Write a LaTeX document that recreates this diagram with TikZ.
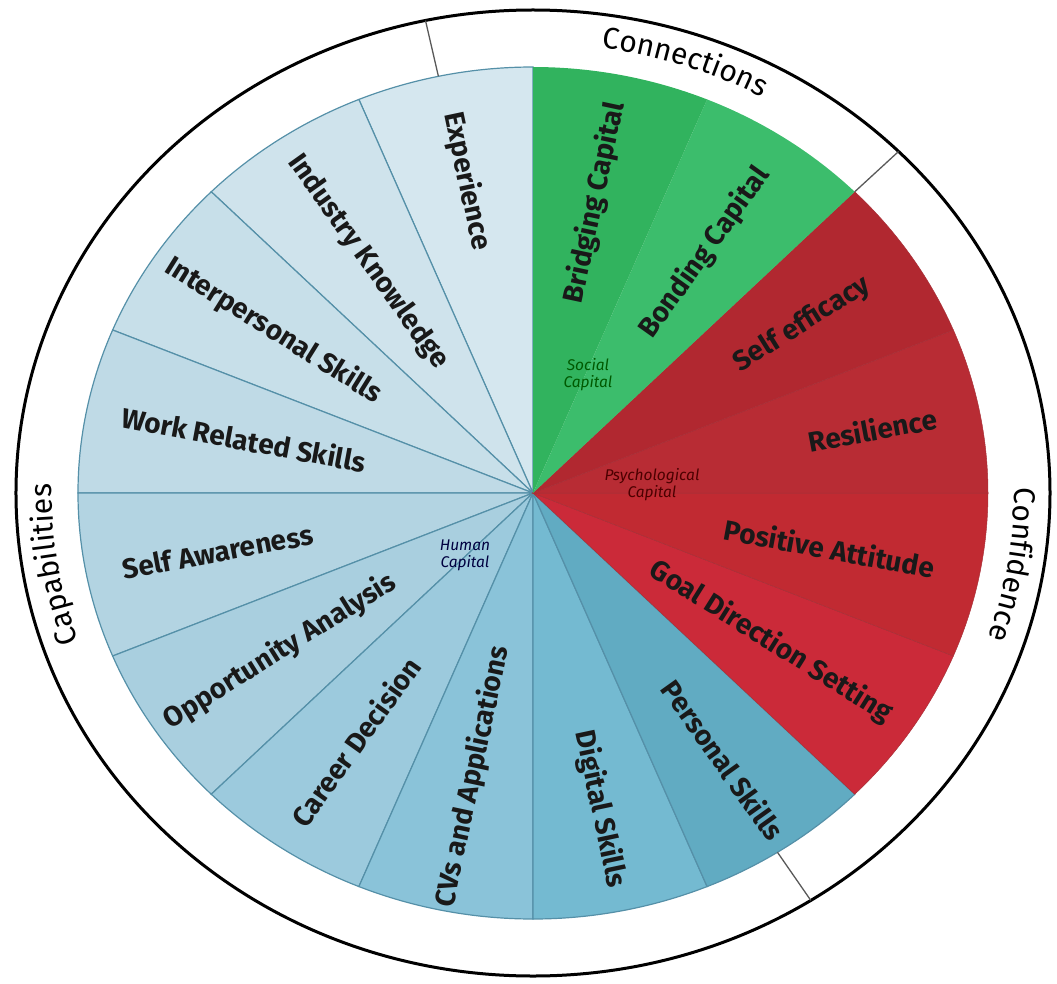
\documentclass[tikz,border=0pt]{standalone}
\usepackage{fontspec}
\setmainfont{Fira Sans}
\usepackage{xcolor}
\usetikzlibrary{decorations.text}
\definecolor{bridging}{HTML}{31B35E}
\definecolor{bonding}{HTML}{3CBD6C}
\definecolor{efficacy}{HTML}{B12830}
\definecolor{resilience}{HTML}{B82C34}
\definecolor{positive}{HTML}{C12A32}
\definecolor{goal}{HTML}{CB2A39}
\definecolor{personal}{HTML}{61ABC2}
\definecolor{digital}{HTML}{74BAD1}
\definecolor{cvs}{HTML}{8AC3D9}
\definecolor{career}{HTML}{9CCADD}
\definecolor{opportunity}{HTML}{A9CFDF}
\definecolor{awareness}{HTML}{B3D4E2}
\definecolor{work}{HTML}{BFDAE6}
\definecolor{interpersonal}{HTML}{C7DFE9}
\definecolor{industry}{HTML}{CFE3EC}
\definecolor{experience}{HTML}{D5E7EF}
\definecolor{sepblue}{HTML}{5590A8}
\definecolor{sepred}{HTML}{A83038}

\begin{document}
\begin{tikzpicture}[x=1pt,y=1pt,
  segtext/.style={font=\bfseries\fontsize{28}{30}\selectfont, text=black!90, inner sep=0pt},
  captext/.style={font=\itshape\fontsize{15.5}{17}\selectfont, align=center, inner sep=0pt},
  bluewedge/.style={draw=sepblue, line width=1.2pt},
  redwedge/.style={draw=sepred, line width=0.5pt},
  tick/.style={draw=black!65, line width=1.3pt}]

  \useasboundingbox (-533,-490) rectangle (524,493);

  \foreach \s/\col in {90/experience, 112.5/industry, 135/interpersonal, 157.5/work,
      -180/awareness, -157.5/opportunity, -135/career, -112.5/cvs, -90/digital, -67.5/personal}
    \filldraw[bluewedge, fill=\col] (0,0) -- (\s:455 and 426)
      arc[start angle=\s, delta angle=22.5, x radius=455, y radius=426] -- cycle;
  \foreach \s/\col in {-45/goal, -22.5/positive, 0/resilience, 22.5/efficacy}
    \filldraw[redwedge, fill=\col] (0,0) -- (\s:455 and 426)
      arc[start angle=\s, delta angle=22.5, x radius=455, y radius=426] -- cycle;
  \foreach \s/\col in {45/bonding, 67.5/bridging}
    \fill[\col] (0,0) -- (\s:455 and 426)
      arc[start angle=\s, delta angle=22.5, x radius=455, y radius=426] -- cycle;

  \foreach \m/\r/\txt [count=\i] in {78.75/296/Bridging Capital, 56.25/289/Bonding Capital,
      33.75/303/Self efficacy, 11.25/324/Resilience, -11.25/283/Positive Attitude,
      -33.75/268/Goal Direction Setting, -56.25/321/Personal Skills, -78.75/322/Digital Skills,
      -101.25/289/CVs and Applications, -123.75/299/Career Decision,
      -146.25/285/Opportunity Analysis, -168.75/301/Self Awareness,
      168.75/276/Work Related Skills, 146.25/292/Interpersonal Skills,
      123.75/278/Industry Knowledge, 101.25/318/Experience} {
    \pgfmathsetmacro\rot{atan(426/455*tan(\m))}
    \pgfmathsetmacro\px{1.068*\r*cos(\m)}
    \pgfmathsetmacro\py{\r*sin(\m)}
    \node[segtext, rotate=\rot] (seg\i) at (\px,\py) {\txt};
  }

  \node[captext, text=green!35!black] (social) at (55,118) {Social\\Capital};
  \node[captext, text=red!30!black] (psych) at (119,8) {Psychological\\Capital};
  \node[captext, text=blue!25!black] (human) at (-68,-62) {Human\\Capital};

  \draw[line width=3pt] (0,0) ellipse[x radius=517, y radius=483];
  \foreach \t in {102, 45, -57.5}
    \draw[tick] (\t:455 and 426) -- (\t:517 and 483);

  \path[decorate, decoration={text along path, text align=center,
      text={|\fontsize{30}{32}\selectfont|Connections}}]
    (96:481 and 450) arc[start angle=96, end angle=47, x radius=481, y radius=450];
  \path[decorate, decoration={text along path, text align=center,
      text={|\fontsize{30}{32}\selectfont|Confidence}}]
    (9:481 and 450) arc[start angle=9, end angle=-27, x radius=481, y radius=450];
  \path[decorate, decoration={text along path, text align=center,
      text={|\fontsize{30}{32}\selectfont|Capabilities}}]
    (207:481 and 450) arc[start angle=207, end angle=171, x radius=481, y radius=450];
\end{tikzpicture}
\end{document}
